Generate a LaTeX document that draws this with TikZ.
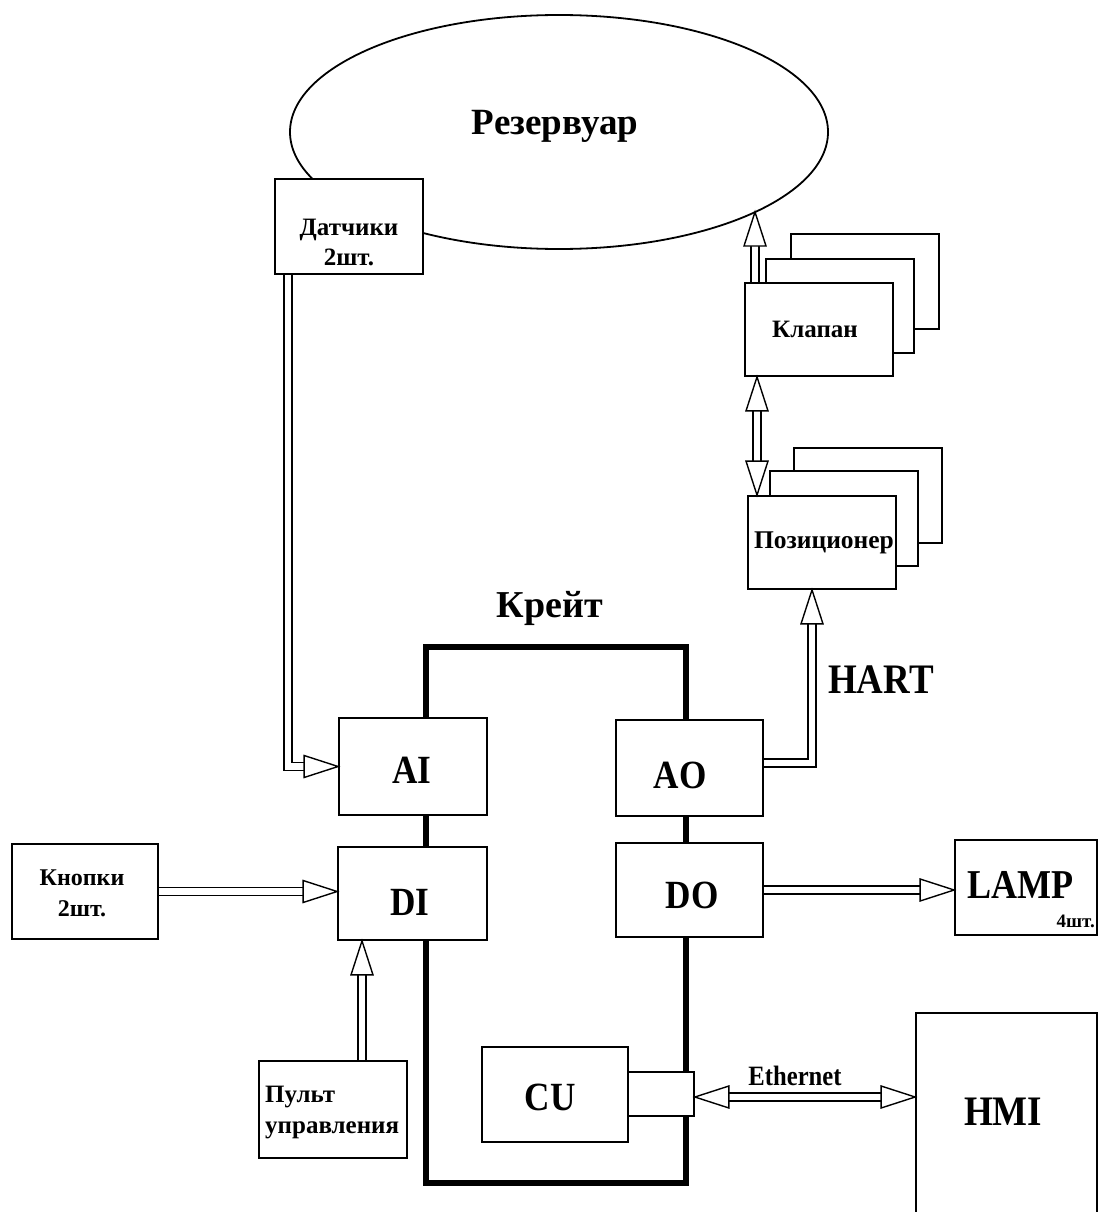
\documentclass[tikz,border=0pt]{standalone}
\usepackage{fontspec}
\setmainfont{Liberation Serif}
\newfontfamily\latf{Liberation Serif}[FakeStretch=0.88]
\usetikzlibrary{shapes.geometric,fit}
\begin{document}
\begin{tikzpicture}[x=1pt,y=-1pt,
  box/.style={draw, line width=1.8pt, fill=white, inner sep=0pt},
  pipe/.style={line width=1.4pt, double=white, double distance=6.5pt},
  ahd/.pic={\draw[fill=white, line width=1.4pt, line join=miter] (0,0) -- (-34,11) -- (-34,-11) -- cycle;},
  lbl/.style={inner sep=0pt, anchor=base}]
\useasboundingbox (0,0) rectangle (1101,1212);
\clip (0,0) rectangle (1101,1212);
\fill[white] (0,0) rectangle (1101,1212);

% reservoir
\node[draw, ellipse, line width=1.8pt, minimum width=538pt, minimum height=234pt, inner sep=0pt] (res) at (559,132) {};
\node[lbl, font=\fontsize{37}{43}\selectfont\bfseries] (restxt) at (555,135) {Резервуар};
\coordinate (kt) at (755,212);

% sensors
\node[box, fit={(275,179) (423,274)}] (dat) {};
\node[lbl, align=center, font=\fontsize{25}{30}\selectfont\bfseries] (dattxt) at (349,265) {Датчики\\2шт.};

% valve stack
\node[box, fit={(791,234) (939,329)}] (kl3) {};
\node[box, fit={(766,259) (914,353)}] (kl2) {};
\node[box, fit={(745,283) (893,376)}] (kl) {};
\node[lbl, font=\fontsize{25}{30}\selectfont\bfseries] (kltxt) at (815,337) {Клапан};

% positioner stack
\node[box, fit={(794,448) (942,543)}] (pos3) {};
\node[box, fit={(770,471) (918,566)}] (pos2) {};
\node[box, fit={(748,496) (896,589)}] (pos) {};
\node[lbl, font=\fontsize{25.5}{30}\selectfont\bfseries] (postxt) at (824,548) {Позиционер};

% crate
\node[draw, line width=6pt, inner sep=0pt, fit={(426,647) (686,1183)}] (crate) {};
\node[lbl, font=\fontsize{38}{44}\selectfont\bfseries] (krtxt) at (550,617) {Крейт};
\node[lbl, anchor=base west, font=\latf\fontsize{42}{48}\selectfont\bfseries] (hart) at (828,693) {HART};

% modules
\node[box, fit={(339,718) (487,815)}] (ai) {};
\node[lbl, font=\latf\fontsize{40}{46}\selectfont\bfseries] (aitxt) at (412,783) {AI};
\node[box, fit={(616,720) (763,816)}] (ao) {};
\node[lbl, font=\latf\fontsize{40}{46}\selectfont\bfseries] (aotxt) at (680,788) {AO};
\node[box, fit={(338,847) (487,940)}] (di) {};
\node[lbl, font=\latf\fontsize{40}{46}\selectfont\bfseries] (ditxt) at (410,915) {DI};
\node[box, fit={(616,843) (763,937)}] (dout) {};
\node[lbl, font=\latf\fontsize{40}{46}\selectfont\bfseries] (dotxt) at (692,908) {DO};
\node[box, fit={(482,1047) (628,1142)}] (cu) {};
\node[lbl, font=\latf\fontsize{40}{46}\selectfont\bfseries] (cutxt) at (550,1110) {CU};
\node[box, fit={(628,1072) (694,1116)}] (port) {};

% peripherals
\node[box, fit={(12,844) (158,939)}] (knp) {};
\node[lbl, align=center, font=\fontsize{24}{31}\selectfont\bfseries] (knptxt) at (82,916) {Кнопки\\2шт.};
\node[box, fit={(955,840) (1097,935)}] (lamp) {};
\node[lbl, anchor=base west, font=\latf\fontsize{41}{46}\selectfont\bfseries] (lamptxt) at (967,898) {LAMP};
\node[lbl, anchor=base east, font=\fontsize{19}{23}\selectfont\bfseries] (lampn) at (1095,927) {4шт.};
\node[box, fit={(259,1061) (407,1158)}] (pult) {};
\node[lbl, anchor=base west, align=left, font=\fontsize{25}{31}\selectfont\bfseries] (pulttxt) at (265,1133) {Пульт\\управления};
\node[box, fit={(916,1013) (1097,1240)}] (hmi) {};
\node[lbl, font=\latf\fontsize{42}{48}\selectfont\bfseries] (hmitxt) at (1003,1125) {HMI};
\node[lbl, font=\latf\fontsize{28}{32}\selectfont\bfseries] (ethtxt) at (795,1085) {Ethernet};

% connectors
\draw[pipe, shorten >=30pt] ([xshift=14pt]dat.south west) |- (ai.west);
\pic at (ai.west) {ahd};

\draw[pipe, shorten >=30pt] (knp.east) -- (knp.east -| di.west);
\pic at (knp.east -| di.west) {ahd};

\draw[pipe, shorten >=30pt] ([xshift=29pt]pult.north) -- ([xshift=29pt]pult.north |- di.south);
\pic[rotate=90] at ([xshift=29pt]pult.north |- di.south) {ahd};

\draw[pipe, shorten >=30pt] (dout.east) -- (dout.east -| lamp.west);
\pic at (dout.east -| lamp.west) {ahd};

\draw[pipe, shorten >=30pt] ([yshift=5pt]ao.east) -| ([xshift=-10pt]pos.south);
\pic[rotate=90] at ([xshift=-10pt]pos.south) {ahd};

\draw[pipe, shorten >=30pt, shorten <=30pt] ([xshift=-62pt]kl.south) -- ([xshift=-65pt]pos.north);
\pic[rotate=90] at ([xshift=-62pt]kl.south) {ahd};
\pic[rotate=-90] at ([xshift=-65pt]pos.north) {ahd};

\draw[pipe, shorten >=30pt] ([xshift=-64pt]kl.north) -- (kt);
\pic[rotate=90] at (kt) {ahd};

\draw[pipe, shorten >=30pt, shorten <=30pt] ([yshift=-3pt]port.east) -- ([yshift=-3pt]port.east -| hmi.west);
\pic[rotate=180] at ([yshift=-3pt]port.east) {ahd};
\pic at ([yshift=-3pt]port.east -| hmi.west) {ahd};
\end{tikzpicture}
\end{document}
